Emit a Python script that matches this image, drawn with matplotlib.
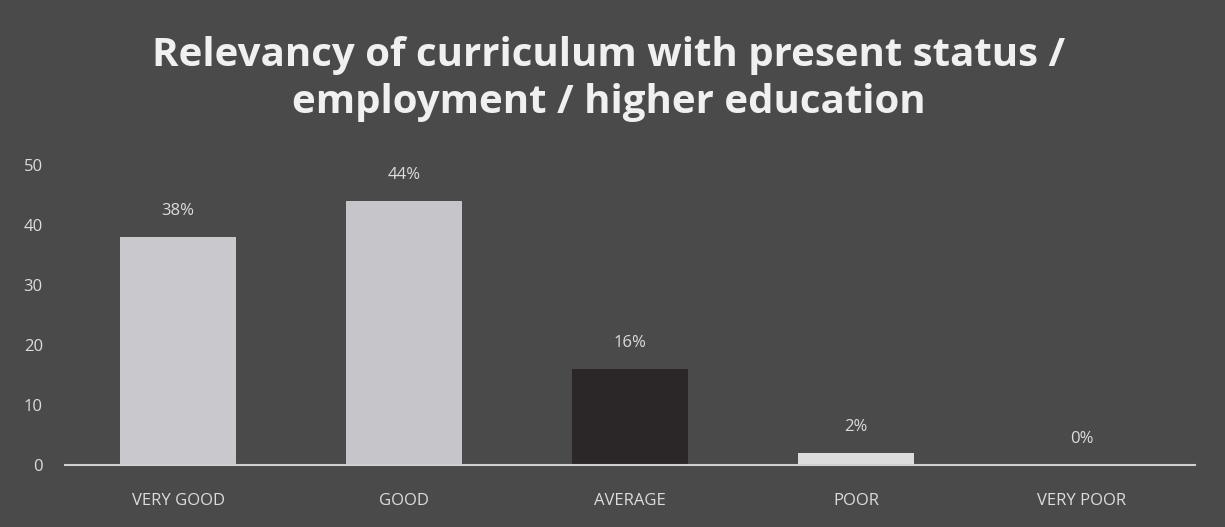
import matplotlib
matplotlib.use("Agg")
import matplotlib.pyplot as plt

categories = ["VERY GOOD", "GOOD", "AVERAGE", "POOR", "VERY POOR"]
values = [38, 44, 16, 2, 0]
labels = ["38%", "44%", "16%", "2%", "0%"]
bar_colors = ["#c9c9cd", "#c6c6ca", "#2b2729", "#dcdcdc", "#dcdcdc"]

title = "Relevancy of curriculum with present status /\nemployment / higher education"

bg = "#4a4a4a"
txt = "#dcdcdc"

fig = plt.figure(figsize=(12.25, 5.27), dpi=100, facecolor=bg)
ax = fig.add_axes([65 / 1225, 1 - 465 / 527, 1130 / 1225, 300 / 527])
ax.set_facecolor(bg)

x = range(len(categories))
bars = ax.bar(x, values, width=0.51, color=bar_colors, zorder=2)

for xi, v, lab in zip(x, values, labels):
    ax.text(xi, v + 4.4, lab, ha="center", va="center", color=txt,
            fontsize=12, family="Open Sans")

ax.set_xlim(-0.5, 4.5)
ax.set_ylim(0, 50)
ax.set_yticks([0, 10, 20, 30, 40, 50])
ax.set_xticks(list(x))
ax.set_xticklabels(categories, fontsize=12, color=txt, family="Open Sans")
ax.tick_params(axis="y", length=0, labelcolor=txt, labelsize=12, pad=16)
ax.tick_params(axis="x", length=0, pad=20)
for lbl in ax.get_yticklabels():
    lbl.set_family("Open Sans")

for s in ["top", "right", "left"]:
    ax.spines[s].set_visible(False)
ax.spines["bottom"].set_color("#d0d0d0")
ax.spines["bottom"].set_linewidth(1.5)

fig.text(0.497, 0.85, title, ha="center", va="center", color="#f0f0f0",
         fontsize=29, fontweight="bold", family="Open Sans", linespacing=1.25)

fig.savefig("out.png", dpi=100, facecolor=bg)
